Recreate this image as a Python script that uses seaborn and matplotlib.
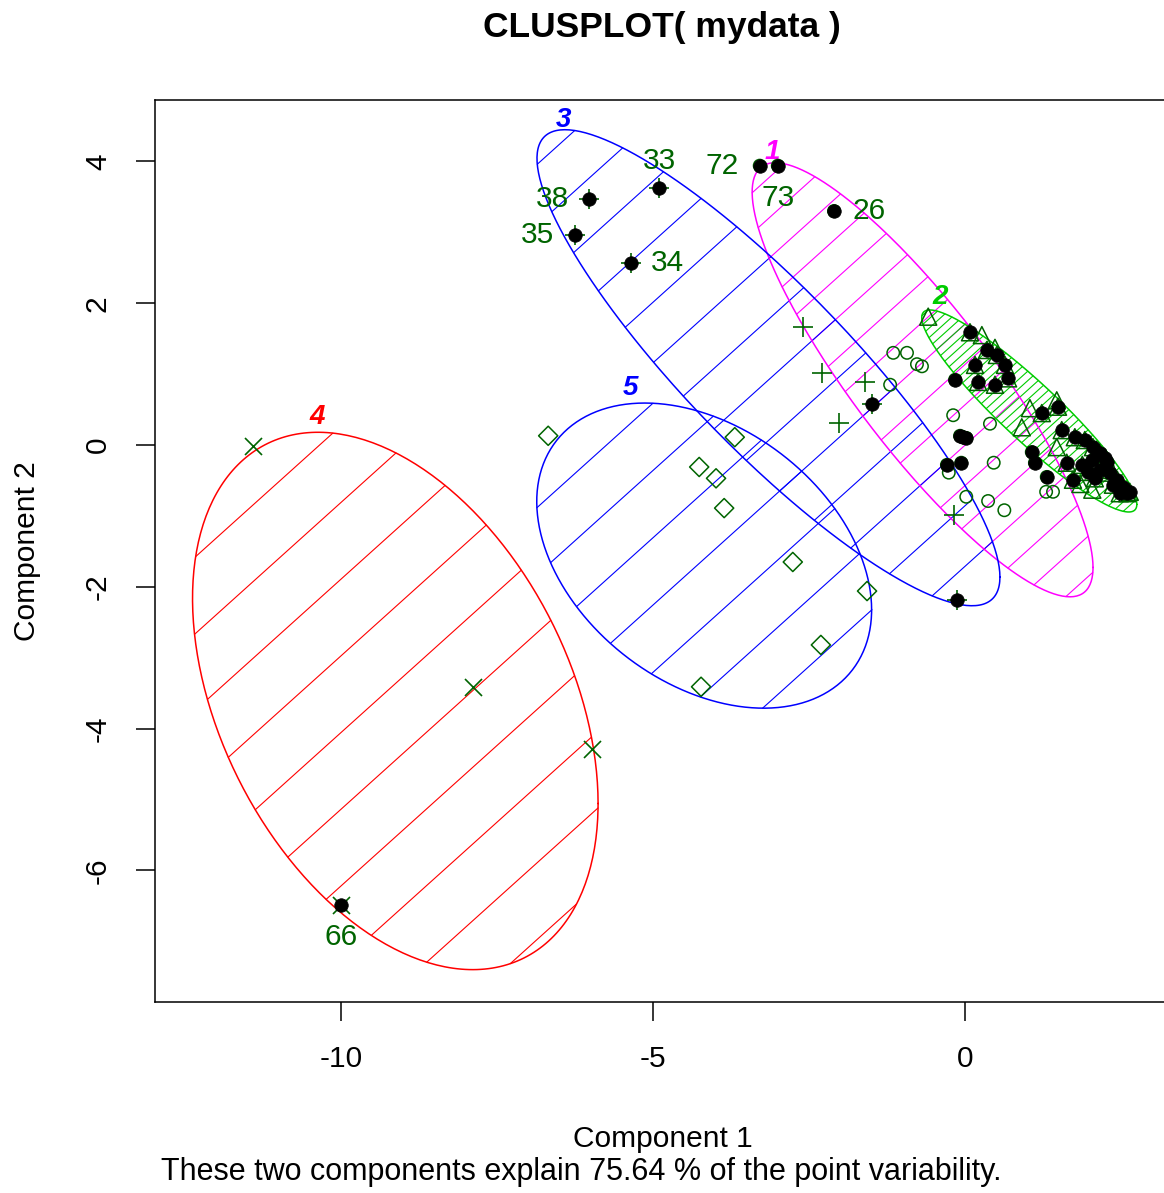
import numpy as np
import pandas as pd
import seaborn as sns
import matplotlib.pyplot as plt

# ---- data (component scores) ----
# cluster 1: open circles
c1_x = [-3.29, -3.00, -2.10, -1.15, -0.93, -0.77, -0.69, -1.20, -0.19, 0.40, 0.46, -0.26, 0.02,
        0.37, 0.63, 1.30, 1.41, -0.16, -0.08, -0.03, 0.02, -0.29, -0.06, 1.07, 1.12, 1.31]
c1_y = [3.94, 3.94, 3.30, 1.30, 1.30, 1.14, 1.11, 0.85, 0.42, 0.30, -0.25, -0.39, -0.73,
        -0.79, -0.92, -0.66, -0.66, 0.92, 0.13, 0.11, 0.10, -0.28, -0.25, -0.10, -0.25, -0.45]
# cluster 2: triangles
c2_x = [-0.59, 0.27, 0.48, 0.91, 1.04, 1.47, 1.47, 2.04, 1.85, 0.08, 0.35, 0.51, 0.16, 0.64,
        0.21, 0.48, 0.69, 1.23, 1.49, 1.55, 1.76, 1.92, 2.05, 2.16, 1.63, 1.88, 2.04, 2.28,
        1.73, 2.32, 2.44, 2.53, 2.60, 2.48, 2.16, 2.37, 2.08, 2.25, 1.97, 2.64]
c2_y = [1.81, 1.55, 1.37, 0.25, 0.52, 0.63, -0.03, -0.63, -0.55, 1.59, 1.34, 1.27, 1.13, 1.13,
        0.89, 0.85, 0.94, 0.45, 0.54, 0.21, 0.11, 0.07, -0.03, -0.11, -0.25, -0.28, -0.21, -0.24,
        -0.49, -0.39, -0.49, -0.59, -0.68, -0.68, -0.35, -0.56, -0.47, -0.18, -0.38, -0.66]
# cluster 3: plus
c3_x = [-4.90, -6.03, -6.25, -5.35, -2.60, -2.29, -1.60, -2.02, -1.49, -0.18, -0.13]
c3_y = [3.62, 3.47, 2.96, 2.57, 1.66, 1.02, 0.89, 0.31, 0.58, -0.99, -2.19]
# cluster 4: crosses
c4_x = [-11.41, -7.88, -5.98, -10.00]
c4_y = [-0.01, -3.41, -4.29, -6.49]
# cluster 5: diamonds
c5_x = [-6.68, -3.69, -4.26, -3.99, -3.86, -2.76, -1.57, -2.31, -4.23]
c5_y = [0.13, 0.11, -0.31, -0.47, -0.89, -1.65, -2.06, -2.82, -3.41]

# points overplotted as solid black dots
hl_x = [-3.29, -3.00, -2.10, -0.16, -0.08, -0.03, 0.02, -0.29, -0.06, 1.07, 1.12, 1.31,
        -4.90, -6.03, -6.25, -5.35, -1.49, -0.13, -10.00,
        0.08, 0.35, 0.51, 0.16, 0.64, 0.21, 0.48, 0.69, 1.23, 1.49, 1.55, 1.76, 1.92, 2.05,
        2.16, 1.63, 1.88, 2.04, 2.28, 1.73, 2.32, 2.44, 2.53, 2.60, 2.48, 2.16, 2.37, 2.08,
        2.25, 1.97, 2.64]
hl_y = [3.94, 3.94, 3.30, 0.92, 0.13, 0.11, 0.10, -0.28, -0.25, -0.10, -0.25, -0.45,
        3.62, 3.47, 2.96, 2.57, 0.58, -2.19, -6.49,
        1.59, 1.34, 1.27, 1.13, 1.13, 0.89, 0.85, 0.94, 0.45, 0.54, 0.21, 0.11, 0.07, -0.03,
        -0.11, -0.25, -0.28, -0.21, -0.24, -0.49, -0.39, -0.49, -0.59, -0.68, -0.68, -0.35,
        -0.56, -0.47, -0.18, -0.38, -0.66]

# labelled observations
obs_labels = ["33", "38", "35", "34", "72", "73", "26", "66"]
obs_x = [-4.90, -6.03, -6.25, -5.35, -3.29, -3.00, -2.10, -10.00]
obs_y = [3.62, 3.47, 2.96, 2.57, 3.94, 3.94, 3.30, -6.49]

# spanning ellipses: centre and shape matrix
ell_names = ["1", "2", "3", "4", "5"]
ell_cx = [-0.68, 1.03, -3.15, -9.13, -4.18]
ell_cy = [0.92, 0.48, 1.09, -3.61, -1.56]
ell_sxx = [7.46, 2.97, 13.76, 10.56, 7.20]
ell_syy = [9.37, 2.03, 11.27, 14.36, 4.63]
ell_sxy = [-7.23, -2.27, -10.95, -4.70, -2.05]
# cluster number positions (top of each ellipse)
name_x = [-3.09, -0.40, -6.44, -10.38, -5.37]
name_y = [4.13, 2.09, 4.58, 0.39, 0.80]

# ---- styling ----
clus_colors = ["#FF00FF", "#00CC00", "#0000FF", "#FF0000", "#0000FF"]
hatch_gap_px = [30, 7, 45, 57, 50]
hatch_angle = 42
pt_color = "#006400"

sns.set_style("ticks")
plt.rcParams["font.family"] = ["Liberation Sans", "DejaVu Sans"]
plt.rcParams["axes.unicode_minus"] = False
for key in ["text.color", "axes.labelcolor", "xtick.color", "ytick.color", "axes.edgecolor"]:
    plt.rcParams[key] = "black"

fig = plt.figure(figsize=(11.64, 11.93), dpi=100)
ax = fig.add_axes([155 / 1164, 191 / 1193, 1015 / 1164, 902 / 1193])
ax.set_xlim(-12.981, 3.285)
ax.set_ylim(-7.856, 4.866)


def ellipse_xy(cx, cy, M, n=300):
    L = np.linalg.cholesky(M)
    t = np.linspace(0, 2 * np.pi, n)
    p = L @ np.vstack([np.cos(t), np.sin(t)])
    return cx + p[0], cy + p[1]


def hatch(ax, cx, cy, M, gap, angle, color):
    (x0, y0), (x1, y1) = ax.transData.transform([(0, 0), (1, 1)])
    kx, ky = x1 - x0, y1 - y0
    S = np.diag([kx, ky])
    P = S @ M @ S
    Q = np.linalg.inv(P)
    th = np.deg2rad(angle)
    d = np.array([np.cos(th), np.sin(th)])
    nv = np.array([-np.sin(th), np.cos(th)])
    c0 = nv @ ax.transData.transform((cx, cy))
    h = np.sqrt(nv @ P @ nv)
    for k in np.arange(np.ceil((c0 - h) / gap), np.floor((c0 + h) / gap) + 1):
        c = k * gap - c0
        a = d @ Q @ d
        b = 2 * c * (nv @ Q @ d)
        cc = c * c * (nv @ Q @ nv) - 1
        disc = b * b - 4 * a * cc
        if disc <= 0:
            continue
        ts = [(-b - np.sqrt(disc)) / (2 * a), (-b + np.sqrt(disc)) / (2 * a)]
        px = [c * nv[0] + t * d[0] for t in ts]
        py = [c * nv[1] + t * d[1] for t in ts]
        ax.plot([cx + v / kx for v in px], [cy + v / ky for v in py],
                color=color, lw=0.8, zorder=1)


for i in range(len(ell_names)):
    M = np.array([[ell_sxx[i], ell_sxy[i]], [ell_sxy[i], ell_syy[i]]])
    ex, ey = ellipse_xy(ell_cx[i], ell_cy[i], M)
    sns.lineplot(x=ex, y=ey, sort=False, estimator=None, color=clus_colors[i],
                 lw=1.1, ax=ax, zorder=2)
    hatch(ax, ell_cx[i], ell_cy[i], M, hatch_gap_px[i], hatch_angle, clus_colors[i])
    ax.text(name_x[i], name_y[i], ell_names[i], color=clus_colors[i], fontsize=20,
            fontweight="bold", fontstyle="italic", ha="center", va="center")

pts = pd.concat([
    pd.DataFrame({"x": c1_x, "y": c1_y, "cluster": 1}),
    pd.DataFrame({"x": c2_x, "y": c2_y, "cluster": 2}),
    pd.DataFrame({"x": c3_x, "y": c3_y, "cluster": 3}),
    pd.DataFrame({"x": c4_x, "y": c4_y, "cluster": 4}),
    pd.DataFrame({"x": c5_x, "y": c5_y, "cluster": 5}),
])
marker_for = {1: ("o", 80), 2: ("^", 150), 3: ("+", 220), 4: ("x", 150), 5: ("D", 95)}
for k, (m, s) in marker_for.items():
    sub = pts[pts["cluster"] == k]
    if m in ("+", "x"):
        sns.scatterplot(data=sub, x="x", y="y", marker=m, s=s, color=pt_color,
                        linewidth=1.2, ax=ax, zorder=3, legend=False)
    else:
        sns.scatterplot(data=sub, x="x", y="y", marker=m, s=s, facecolor="none",
                        edgecolor=pt_color, linewidth=1.1, ax=ax, zorder=3, legend=False)

sns.scatterplot(x=hl_x, y=hl_y, marker="o", s=95, color="black", edgecolor="black",
                linewidth=0.5, ax=ax, zorder=4, legend=False)

label_offsets = {"33": (0, 20), "38": (-26, 0), "35": (-27, 0), "34": (26, 0),
                 "72": (-27, 0), "73": (0, -23), "26": (25, 0), "66": (0, -23)}
for lab, x, y in zip(obs_labels, obs_x, obs_y):
    ax.annotate(lab, (x, y), xytext=label_offsets[lab], textcoords="offset points",
                ha="center", va="center", color=pt_color, fontsize=21.5, zorder=5)

ax.set_xticks([-10, -5, 0])
ax.set_yticks([-6, -4, -2, 0, 2, 4])
ax.tick_params(axis="both", direction="out", length=14, width=1.1, labelsize=21.5,
               color="black", labelcolor="black", pad=17, bottom=True, left=True)
ax.tick_params(axis="y", labelrotation=90)
for t in ax.get_yticklabels():
    t.set_va("center")
for side in ["left", "top", "bottom", "right"]:
    ax.spines[side].set_visible(True)
    ax.spines[side].set_color("black")
    ax.spines[side].set_linewidth(1.1)

ax.set_xlabel("Component 1", fontsize=21.5)
ax.set_ylabel("Component 2", fontsize=21.5)
ax.xaxis.set_label_coords(0.5, -0.136)
ax.yaxis.set_label_coords(-0.112, 0.5)

fig.text(662 / 1164, 1 - 27 / 1193, "CLUSPLOT( mydata )", ha="center", va="center",
         fontsize=25.5, fontweight="bold")
fig.text(581 / 1164, 1 - 1172 / 1193,
         "These two components explain 75.64 % of the point variability.",
         ha="center", va="center", fontsize=22)

fig.savefig("out.png", dpi=100)
